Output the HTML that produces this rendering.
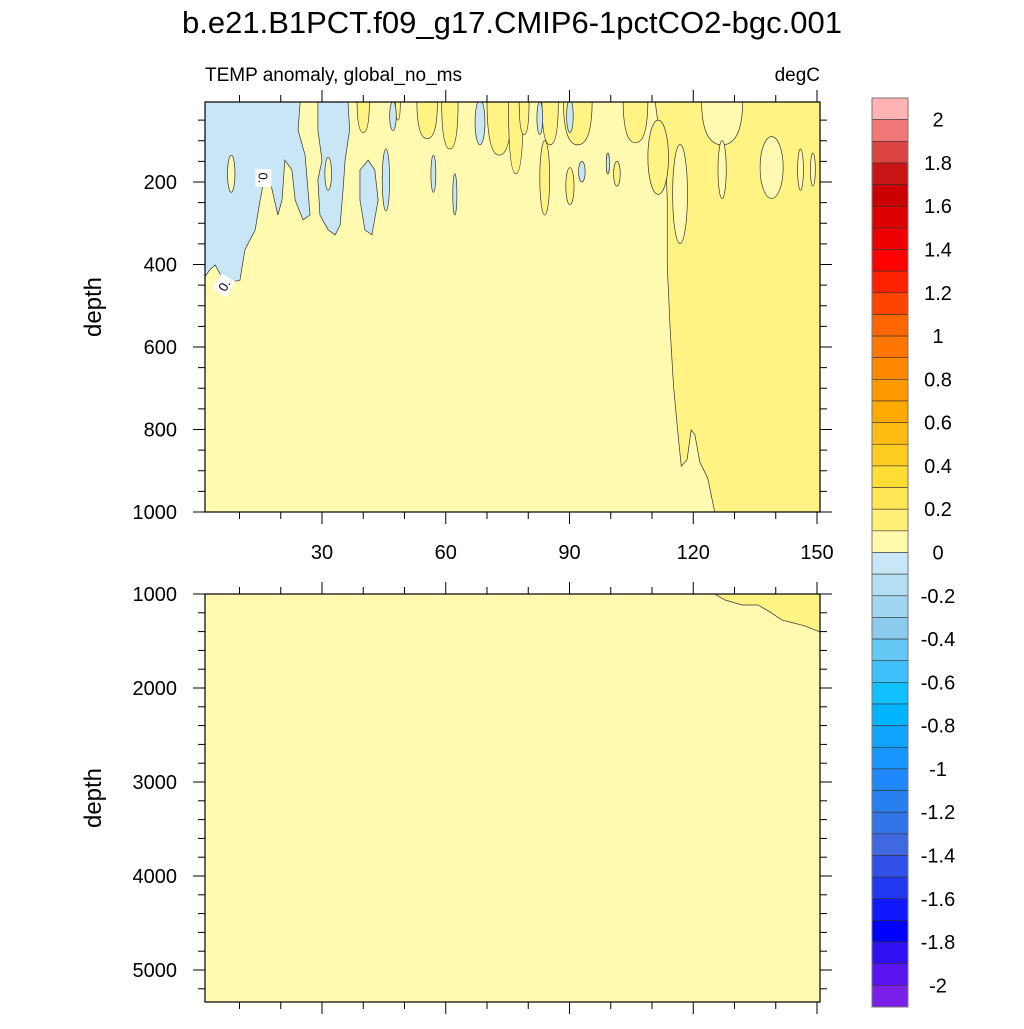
<!DOCTYPE html>
<html><head><meta charset="utf-8"><style>
body{margin:0;background:#fff;width:1024px;height:1024px;overflow:hidden}
svg text{font-family:"Liberation Sans",sans-serif;fill:#000}
</style></head><body>
<svg id="c" width="1024" height="1024" xmlns="http://www.w3.org/2000/svg">
<text x="512" y="33" font-size="31" text-anchor="middle">b.e21.B1PCT.f09_g17.CMIP6-1pctCO2-bgc.001</text>
<text x="205" y="81" font-size="19">TEMP anomaly, global_no_ms</text>
<text x="820" y="81" font-size="19" text-anchor="end">degC</text>
</svg>
<script>
// ---- data ----
const pale="#FFFAB0", dark="#FFF383", blue="#C8E6F5";
const blueA=[[1.6,6],[24.7,6],[24.2,74],[25.9,135],[27.1,280],[25.4,292],[23.5,244],[22.7,171],[21.0,147],[20.3,244],[19.3,280],[17.9,219],[16.9,171],[15.7,207],[15.0,244],[13.8,316],[12.5,341],[11.3,365],[10.1,438],[6.5,445],[4.1,401],[2.8,413],[1.6,430]];
const blueB=[[29.0,6],[36.3,6],[36.7,74],[35.6,147],[35.1,219],[34.4,304],[33.2,328],[31.5,316],[29.5,280],[29.0,195],[30.0,147],[29.0,74]];
const blueC=[[39.2,171],[41.2,147],[42.8,171],[43.6,244],[42.1,328],[40.4,316],[39.2,244]];
const blueOvals=[[45.5,195,0.9,75],[47.2,40,0.8,35],[82.8,45,0.7,40],[90.1,40,0.8,40],[93.0,175,0.8,25],[99.3,155,0.4,25],[57,180,0.6,45],[62.2,230,0.5,50],[68.3,55,1.2,55]];
const paleHoles=[[8,180,0.9,45],[31.5,180,0.8,40]];
const darkSpikes=[[11.4,0.8,80],[29.8,0.6,60],[40,1.5,80],[48.4,0.6,50],[55.5,2.5,95],[61,2.0,120],[73,3,135],[77,1.8,180],[79,1.2,85],[85.3,2,110],[92,3.5,110],[106,3,105]];
const darkOvals=[[84,190,1.2,90],[90.1,210,1,45],[101.5,180,0.8,30],[111.5,140,2.5,90]];
const rightRegion=[[150.7,0],[150.7,1000],[125.2,1000],[123.5,918],[121.6,879],[120.4,813],[119.5,801],[118.5,873],[117.1,889],[116.2,801],[115.2,692],[114.4,557],[113.7,401],[113.7,244],[113.2,123],[112,98],[110.7,0]];
const paleFingers=[[116.8,229,1.8,120],[127,170,1.0,70],[139,165,2.8,75],[146,170,0.7,50],[149,170,0.6,40]];
const paleSpikes=[[127,5,110]];
const deepRegion=[[125.2,1000],[127.7,1064],[131.8,1117],[135.7,1117],[138.6,1191],[141.5,1277],[143.4,1298],[147.1,1340],[150.7,1404],[150.7,1000]];
const xTicks=[30,60,90,120,150];
const yTicksTop=[200,400,600,800,1000];
const yTicksBot=[1000,2000,3000,4000,5000];
const cbColors=["#FFB3B3","#F07878","#DC4444","#C81414","#CC0000","#DD0000","#EE0000","#FF0000","#FF2200","#FF4400","#FF6600","#FF7700","#FF8800","#FF9900","#FFAA00","#FFBB11","#FFCC22","#FFDD33","#FFE655","#FFF077","#FFFAAA","#C8E6F5","#B4DEF2","#A0D6F0","#8CCBEE","#64C8F5","#40C0FA","#10C0FF","#00B4FF","#10A4FF","#1896FF","#2088FF","#2880F0","#3074E8","#4068E0","#3050E8","#2038F0","#1018FF","#0000FF","#3010F0","#5A14F0","#7A20E8"];
const cbLabels=["2","1.8","1.6","1.4","1.2","1","0.8","0.6","0.4","0.2","0","-0.2","-0.4","-0.6","-0.8","-1","-1.2","-1.4","-1.6","-1.8","-2"];
// ---- axes ----
const L=205,R=820,T1=102,B1=512,T2=594,B2=1002;
const X=y=>198.25+y*4.125;
const Y1=d=>99.5+d*0.4125;
const Y2=d=>594+(d-1000)*0.094;
const svg=document.getElementById('c');
const NS="http://www.w3.org/2000/svg";
function el(t,a,p){const e=document.createElementNS(NS,t);for(const k in a)e.setAttribute(k,a[k]);(p||svg).appendChild(e);return e;}
const defs=el('defs',{});
const cp1=el('clipPath',{id:'cp1'},defs);el('rect',{x:L,y:T1,width:R-L,height:B1-T1},cp1);
const cp2=el('clipPath',{id:'cp2'},defs);el('rect',{x:L,y:T2,width:R-L,height:B2-T2},cp2);
const g1=el('g',{'clip-path':'url(#cp1)'});


const line={stroke:'#333',"stroke-width":0.7};
el('rect',{x:L,y:T1,width:R-L,height:B1-T1,fill:pale},g1);
function poly(pts,fill,g,Yf,name){const p=el('polygon',Object.assign({points:pts.map(q=>X(q[0])+','+Yf(q[1])).join(' '),fill:fill},line),g);

return p;}
function oval(o,fill,name){const e=el('ellipse',Object.assign({cx:X(o[0]),cy:Y1(o[1]),rx:o[2]*4.125,ry:o[3]*0.4125,fill:fill},line),g1);

}
function spike(s,fill,name){const x0=X(s[0]-s[1]),x1=X(s[0]+s[1]),xm=X(s[0]),yb=Y1(s[2]),yt=Y1(0);
const p=el('path',Object.assign({d:`M${x0},${yt} Q${x0},${yb} ${xm},${yb} Q${x1},${yb} ${x1},${yt} Z`,fill:fill},line),g1);

}
poly(rightRegion,dark,g1,Y1,'warm-region-right');
darkSpikes.forEach(s=>spike(s,dark,'warm-spike'));
darkOvals.forEach(o=>oval(o,dark,'warm-patch'));
paleSpikes.forEach(s=>spike(s,pale,'neutral-spike'));
paleFingers.forEach(o=>oval(o,pale,'neutral-patch'));
poly(blueA,blue,g1,Y1,'cool-region-left');
poly(blueB,blue,g1,Y1,'cool-region-b');
poly(blueC,blue,g1,Y1,'cool-region-c');
blueOvals.forEach(o=>oval(o,blue,'cool-patch'));
paleHoles.forEach(o=>oval(o,pale,'neutral-hole'));
// contour labels
[[15.8,190,90],[6.2,450,-60]].forEach(l=>{const gx=X(l[0]),gy=Y1(l[1]);
el('rect',{x:gx-9,y:gy-8,width:18,height:16,fill:'#fff',transform:`rotate(${l[2]},${gx},${gy})`});
const t=el('text',{x:gx,y:gy+5,'font-size':13,'text-anchor':'middle',transform:`rotate(${l[2]},${gx},${gy})`});t.textContent='0.';

});
const g2=el('g',{'clip-path':'url(#cp2)'});


el('rect',{x:L,y:T2,width:R-L,height:B2-T2,fill:pale},g2);
poly(deepRegion,dark,g2,Y2,'warm-region-deep');
// frames & ticks
function frame(T,B,Yf,ticks,minStep,maxD,minD,labelX,name){
 el('rect',{x:L,y:T,width:R-L,height:B-T,fill:'none',stroke:'#000','stroke-width':1.2});
 for(let y=10;y<=150;y+=10){const maj=y%30==0,len=maj?12:7;
  el('line',{x1:X(y),x2:X(y),y1:T,y2:T-len,stroke:'#000'});
  el('line',{x1:X(y),x2:X(y),y1:B,y2:B+len,stroke:'#000'});}
 for(let d=minD;d<=maxD;d+=minStep){const py=Yf(d);if(py<T-0.5||py>B+0.5)continue;const maj=ticks.includes(d),len=maj?12:7;
  el('line',{x1:L,x2:L-len,y1:py,y2:py,stroke:'#000'});
  el('line',{x1:R,x2:R+len,y1:py,y2:py,stroke:'#000'});}
 ticks.forEach(d=>{const t=el('text',{x:177,y:Yf(d)+7,'font-size':20,'text-anchor':'end'});t.textContent=d;
 
 });
 const yt=el('text',{x:labelX,y:(T+B)/2,'font-size':24,'text-anchor':'middle',transform:`rotate(-90,${labelX},${(T+B)/2})`});yt.textContent='depth';
 
 
}
frame(T1,B1,Y1,yTicksTop,50,1000,50,101,'y-axis-title-top');
frame(T2,B2,Y2,yTicksBot,200,5400,1000,101,'y-axis-title-bottom');
xTicks.forEach(v=>{const t=el('text',{x:X(v),y:559,'font-size':20,'text-anchor':'middle'});t.textContent=v;

});
// colorbar
const cbx=872,cbw=36,cbt=98,cbh=909/cbColors.length;
cbColors.forEach((c,i)=>{const r=el('rect',{x:cbx,y:cbt+i*cbh,width:cbw,height:cbh,fill:c,stroke:'#333','stroke-width':0.6});

});
el('rect',{x:cbx,y:cbt,width:cbw,height:909,fill:'none',stroke:'#777','stroke-width':1});
cbLabels.forEach((s,i)=>{const t=el('text',{x:938,y:cbt+(1+2*i)*cbh+7,'font-size':20,'text-anchor':'middle'});t.textContent=s;

});
</script>
</body></html>
